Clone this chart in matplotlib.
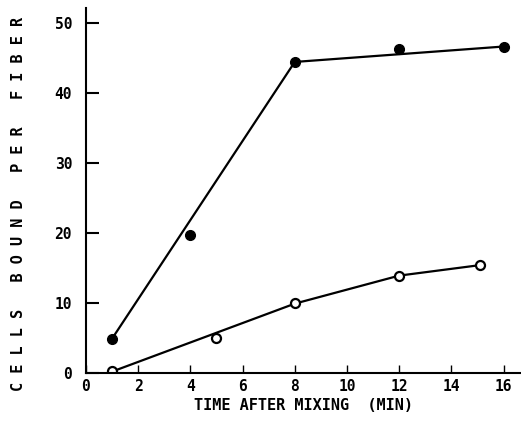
import matplotlib
matplotlib.use("Agg")
import matplotlib.pyplot as plt

# filled circles (data points)
t_filled = [1, 4, 8, 12, 16]
cells_filled = [4.9, 19.7, 44.4, 46.2, 46.6]
# line drawn through the filled set
t_filled_fit = [1, 8, 16]
cells_filled_fit = [4.9, 44.4, 46.6]

# open circles (data points)
t_open = [1, 5, 8, 12, 15.1]
cells_open = [0.3, 5.0, 10.0, 13.9, 15.4]
# line drawn through the open set
t_open_fit = [1, 8, 12, 15.1]
cells_open_fit = [0.2, 9.9, 13.9, 15.4]

xticks = [0, 2, 4, 6, 8, 10, 12, 14, 16]
yticks = [0, 10, 20, 30, 40, 50]

tick_font = {'family': 'DejaVu Sans Mono', 'weight': 'bold', 'size': 10.5}

fig = plt.figure(figsize=(5.21, 4.21), dpi=100)
ax = fig.add_axes([0.165, 0.114, 0.835, 0.867])

ax.plot(t_filled_fit, cells_filled_fit, color='black', linewidth=1.6)
ax.plot(t_filled, cells_filled, 'o', color='black', markersize=7)
ax.plot(t_open_fit, cells_open_fit, color='black', linewidth=1.6)
ax.plot(t_open, cells_open, 'o', markerfacecolor='white', markeredgecolor='black',
        markeredgewidth=1.6, markersize=6.5)

ax.set_xlim(0, 16.67)
ax.set_ylim(0, 52.1)
ax.spines['top'].set_visible(False)
ax.spines['right'].set_visible(False)
ax.spines['left'].set_linewidth(1.5)
ax.spines['bottom'].set_linewidth(1.5)

ax.set_xticks(xticks)
ax.set_yticks(yticks)
ax.set_xticklabels([str(v) for v in xticks], fontdict=tick_font)
ax.set_yticklabels([str(v) for v in yticks], fontdict=tick_font)
ax.tick_params(axis='y', direction='in', length=9, width=1.5, pad=10)
ax.tick_params(axis='x', direction='in', length=6, width=1.0, pad=4)

ax.set_xlabel('TIME AFTER MIXING  (MIN)', fontfamily='DejaVu Sans Mono',
              fontweight='bold', fontsize=11, labelpad=3)
fig.text(0.035, 0.515, 'C E L L S   B O U N D   P E R   F I B E R',
         rotation=90, ha='center', va='center',
         fontfamily='DejaVu Sans Mono', fontweight='bold', fontsize=11)

plt.savefig('out.png', dpi=100)
